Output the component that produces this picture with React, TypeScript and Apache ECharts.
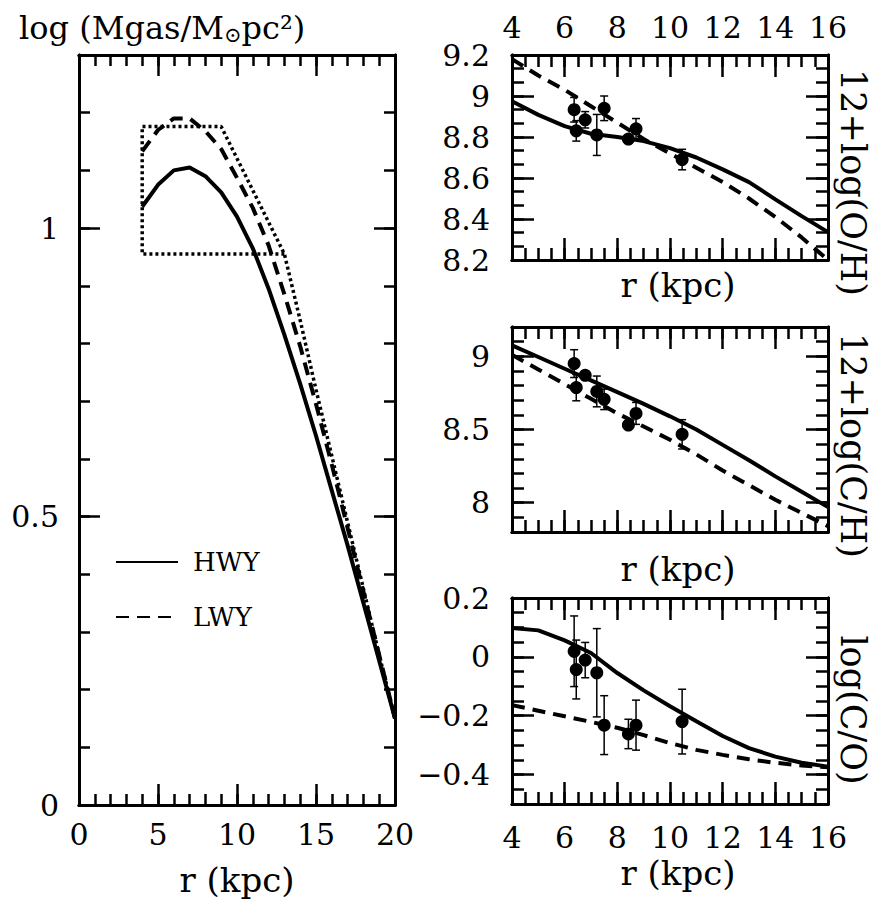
import React, { useEffect, useRef } from 'react';
import * as echarts from 'echarts';

// ---------- Left panel: gas surface density ----------
const radiusGas = [4, 5, 6, 7, 8, 9, 10, 11, 12, 13, 14, 15, 16, 17, 18, 19, 20];
const gasHWY = [1.037, 1.075, 1.10, 1.105, 1.09, 1.062, 1.02, 0.965, 0.895, 0.815, 0.73, 0.64, 0.545, 0.45, 0.35, 0.25, 0.15];
const gasLWY = [1.133, 1.17, 1.19, 1.19, 1.168, 1.137, 1.087, 1.035, 0.97, 0.885, 0.795, 0.695, 0.59, 0.48, 0.37, 0.26, 0.15];
const gasObsR = [13, 4, 4, 9, 13, 14, 15, 16, 17, 18, 19, 20];
const gasObsV = [0.955, 0.955, 1.176, 1.176, 0.955, 0.84, 0.72, 0.605, 0.49, 0.375, 0.26, 0.15];

// ---------- Right panels: model gradients ----------
const radiusModel = [4, 5, 6, 7, 8, 9, 10, 11, 12, 13, 14, 15, 16];
const ohHWY = [8.974, 8.908, 8.853, 8.816, 8.80, 8.78, 8.746, 8.70, 8.642, 8.58, 8.496, 8.414, 8.336];
const ohLWY = [9.18, 9.10, 9.03, 8.95, 8.87, 8.79, 8.72, 8.65, 8.58, 8.50, 8.41, 8.31, 8.20];
const chHWY = [9.075, 8.995, 8.915, 8.835, 8.755, 8.675, 8.59, 8.50, 8.395, 8.29, 8.18, 8.075, 7.97];
const chLWY = [9.01, 8.91, 8.81, 8.71, 8.61, 8.52, 8.43, 8.33, 8.22, 8.12, 8.02, 7.93, 7.84];
const coHWY = [0.098, 0.09, 0.056, 0.013, -0.055, -0.114, -0.168, -0.219, -0.269, -0.31, -0.339, -0.36, -0.373];
const coLWY = [-0.164, -0.183, -0.202, -0.221, -0.241, -0.266, -0.293, -0.316, -0.333, -0.348, -0.36, -0.369, -0.375];

// ---------- Observations ----------
const obsR = [6.36, 6.44, 6.78, 7.22, 7.50, 8.42, 8.71, 10.46];
const obsOH = [8.933, 8.83, 8.884, 8.81, 8.94, 8.79, 8.84, 8.69];
const obsOHErr = [0.06, 0.05, 0.04, 0.10, 0.06, 0.02, 0.05, 0.05];
const obsCH = [8.95, 8.786, 8.87, 8.76, 8.706, 8.53, 8.61, 8.467];
const obsCHErr = [0.095, 0.09, 0.03, 0.105, 0.07, 0.02, 0.075, 0.10];
const obsCO = [0.019, -0.043, -0.011, -0.054, -0.232, -0.262, -0.232, -0.22];
const obsCOErr = [0.12, 0.10, 0.06, 0.15, 0.10, 0.05, 0.085, 0.11];

// ---------- Tick values ----------
const gasXMajor = [0, 5, 10, 15, 20];
const gasYMajor = [0, 0.5, 1];
const rXMajor = [4, 6, 8, 10, 12, 14, 16];
const ohYMajor = [8.2, 8.4, 8.6, 8.8, 9.0, 9.2];
const chYMajor = [8, 8.5, 9];
const coYMajor = [-0.4, -0.2, 0, 0.2];

const steps = (a: number, b: number, s: number) => {
  const out: number[] = [];
  const n = Math.round((b - a) / s);
  for (let i = 0; i <= n; i++) out.push(Math.round((a + i * s) * 10000) / 10000);
  return out;
};

const FONT = 'DejaVu Serif';
const fmt = (v: number) => String(Math.round(v * 1000) / 1000).replace('-', '\u2212');

function axisPair(grid: number, pos: string, min: number, max: number, majors: number[], minors: number[], majorLen: number, minorLen: number, label?: any, name?: any) {
  const base = () => ({
    type: 'value', gridIndex: grid, position: pos, min, max,
    axisLine: { show: true, onZero: false, lineStyle: { color: '#000', width: 3 } },
    splitLine: { show: false },
  });
  // labels kept "on" but empty so that ECharts still builds the ticks of top/right axes
  const emptyLabel = (vals: number[]) => ({ show: true, customValues: [...vals], formatter: () => '', margin: 4, fontSize: 8 });
  const major: any = {
    ...base(),
    axisTick: { show: true, inside: true, length: majorLen, customValues: [...majors], lineStyle: { color: '#000', width: 2.5 } },
    axisLabel: label
      ? { show: true, customValues: [...label.values], margin: label.margin, formatter: fmt, color: '#000', fontFamily: FONT, fontSize: 30 }
      : emptyLabel(majors),
    ...(name || {}),
  };
  const minor: any = {
    ...base(),
    axisTick: { show: true, inside: true, length: minorLen, customValues: [...minors], lineStyle: { color: '#000', width: 2.5 } },
    axisLabel: emptyLabel(minors),
  };
  return [major, minor];
}

const nameStyle = { fontFamily: FONT, fontSize: 34, color: '#000' };

function buildOption() {
  const xAxis: any[] = [];
  const yAxis: any[] = [];
  const grid: any[] = [
    { left: 79, top: 55, width: 316, height: 750 },
    { left: 512, top: 55, width: 316, height: 205 },
    { left: 512, top: 327, width: 316, height: 205 },
    { left: 512, top: 598, width: 316, height: 206 },
  ].map((g) => ({ ...g, show: false, containLabel: false, outerBoundsMode: 'none' }));

  // grid 0
  xAxis.push(...axisPair(0, 'bottom', 0, 20, gasXMajor, steps(0, 20, 1), 21, 11, { values: gasXMajor, margin: 14 },
    { name: 'r (kpc)', nameLocation: 'middle', nameGap: 58, nameTextStyle: nameStyle }));
  xAxis.push(...axisPair(0, 'top', 0, 20, gasXMajor, steps(0, 20, 1), 21, 11));
  yAxis.push(...axisPair(0, 'left', 0, 1.3, gasYMajor, steps(0, 1.3, 0.1), 21, 11, { values: gasYMajor, margin: 20 }));
  yAxis.push(...axisPair(0, 'right', 0, 1.3, gasYMajor, steps(0, 1.3, 0.1), 21, 11));

  const panels = [
    { g: 1, min: 8.2, max: 9.2, major: ohYMajor, minorStep: 0.2 / 3, name: '12+log(O/H)', gap: 8, topLabels: true, bottomLabels: false, pad: 50 },
    { g: 2, min: 7.8, max: 9.2, major: chYMajor, minorStep: 0.1, name: '12+log(C/H)', gap: 20, topLabels: false, bottomLabels: false, pad: 32 },
    { g: 3, min: -0.5, max: 0.2, major: coYMajor, minorStep: 0.05, name: 'log(C/O)', gap: 52, topLabels: false, bottomLabels: true, pad: 18 },
  ];
  for (const p of panels) {
    xAxis.push(...axisPair(p.g, 'bottom', 4, 16, rXMajor, steps(4, 16, 0.5), 22, 12,
      p.bottomLabels ? { values: rXMajor, margin: 18 } : undefined,
      { name: 'r (kpc)', nameLocation: 'middle', nameGap: p.gap, nameTextStyle: { ...nameStyle, padding: [0, 0, 0, 16] } }));
    xAxis.push(...axisPair(p.g, 'top', 4, 16, rXMajor, steps(4, 16, 0.5), 22, 12,
      p.topLabels ? { values: rXMajor, margin: 13 } : undefined));
    yAxis.push(...axisPair(p.g, 'left', p.min, p.max, p.major, steps(p.min, p.max, p.minorStep), 22, 12, { values: p.major, margin: 22 }));
    yAxis.push(...axisPair(p.g, 'right', p.min, p.max, p.major, steps(p.min, p.max, p.minorStep), 22, 12, undefined,
      { name: p.name, nameLocation: 'middle', nameRotate: -90, nameGap: 6, nameTextStyle: { fontFamily: FONT, fontSize: 35, color: '#000', padding: [0, 0, 0, p.pad] } }));
  }

  const lineS = (name: string, gi: number, xs: number[], ys: number[], dash: any, width = 4) => ({
    type: 'line', name, xAxisIndex: gi * 4, yAxisIndex: gi * 4,
    data: xs.map((x, i) => [x, ys[i]]),
    symbol: 'none', showSymbol: false, smooth: false,
    lineStyle: { color: '#000', width, type: dash },
    itemStyle: { color: '#000' },
  });

  const errS = (gi: number, vals: number[], errs: number[]) => ({
    type: 'custom', xAxisIndex: gi * 4, yAxisIndex: gi * 4,
    data: obsR.map((r, i) => [r, vals[i] - errs[i], vals[i] + errs[i]]),
    encode: { x: 0, y: [1, 2] },
    renderItem: (params: any, api: any) => {
      const x = api.value(0);
      const p1 = api.coord([x, api.value(1)]);
      const p2 = api.coord([x, api.value(2)]);
      const c = 4;
      const st = { stroke: '#000', lineWidth: 1.5 };
      return {
        type: 'group',
        children: [
          { type: 'line', shape: { x1: p1[0], y1: p1[1], x2: p2[0], y2: p2[1] }, style: st },
          { type: 'line', shape: { x1: p1[0] - c, y1: p1[1], x2: p1[0] + c, y2: p1[1] }, style: st },
          { type: 'line', shape: { x1: p2[0] - c, y1: p2[1], x2: p2[0] + c, y2: p2[1] }, style: st },
        ],
      };
    },
  });

  const ptS = (name: string, gi: number, vals: number[]) => ({
    type: 'scatter', name, xAxisIndex: gi * 4, yAxisIndex: gi * 4,
    data: obsR.map((r, i) => [r, vals[i]]),
    symbol: 'circle', symbolSize: 13, itemStyle: { color: '#000', opacity: 1 },
  });

  const dash = [13, 8];
  const series: any[] = [
    lineS('HWY', 0, radiusGas, gasHWY, 'solid'),
    lineS('LWY', 0, radiusGas, gasLWY, dash),
    lineS('Observed', 0, gasObsR, gasObsV, [3, 3], 3.5),
    lineS('HWY O/H', 1, radiusModel, ohHWY, 'solid'),
    lineS('LWY O/H', 1, radiusModel, ohLWY, dash),
    errS(1, obsOH, obsOHErr),
    ptS('obs O/H', 1, obsOH),
    lineS('HWY C/H', 2, radiusModel, chHWY, 'solid'),
    lineS('LWY C/H', 2, radiusModel, chLWY, dash),
    errS(2, obsCH, obsCHErr),
    ptS('obs C/H', 2, obsCH),
    lineS('HWY C/O', 3, radiusModel, coHWY, 'solid'),
    lineS('LWY C/O', 3, radiusModel, coLWY, dash),
    errS(3, obsCO, obsCOErr),
    ptS('obs C/O', 3, obsCO),
  ];

  return {
    animation: false,
    backgroundColor: '#fff',
    title: {
      text: '{a|log (Mgas/M}{s|\u2299}{a|pc\u00b2)}',
      left: 14, top: 5,
      textStyle: {
        fontWeight: 'normal',
        rich: {
          a: { fontFamily: FONT, fontSize: 32, fontWeight: 'normal', color: '#000' },
          s: { fontFamily: FONT, fontSize: 21, fontWeight: 'normal', color: '#000', padding: [14, 0, 0, 0] },
        },
      },
    },
    legend: {
      data: ['HWY', 'LWY'],
      orient: 'vertical', left: 110, top: 544,
      itemWidth: 62, itemHeight: 14, itemGap: 29,
      selectedMode: false,
      itemStyle: { opacity: 0 },
      textStyle: { fontFamily: FONT, fontSize: 26, color: '#000', padding: [0, 0, 0, 10] },
    },
    grid, xAxis, yAxis, series,
  };
}

export default function App() {
  const ref = useRef<HTMLDivElement>(null);
  useEffect(() => {
    if (!ref.current) return;
    const chart = echarts.init(ref.current, undefined, { renderer: 'svg' });
    chart.setOption(buildOption() as any);
    return () => chart.dispose();
  }, []);
  return <div ref={ref} style={{ position: 'absolute', left: 0, top: 0, width: 870, height: 899, background: '#fff' }} />;
}
